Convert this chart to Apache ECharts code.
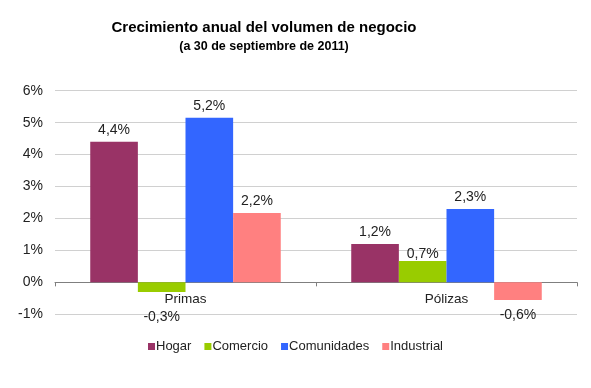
<!DOCTYPE html>
<html><head><meta charset="utf-8">
<script src="https://cdn.jsdelivr.net/npm/echarts@6/dist/echarts.min.js"></script>
<style>html,body{margin:0;padding:0;background:#fff}#c{width:591px;height:388px}</style>
</head><body><div id="c"></div>
<script>
var categories = ['Primas', 'Pólizas'];
var seriesNames = ['Hogar', 'Comercio', 'Comunidades', 'Industrial'];
var hogar = [4.4, 1.2];
var comercio = [-0.3, 0.67];
var comunidades = [5.15, 2.3];
var industrial = [2.17, -0.55];
var yTicks = [-1, 0, 1, 2, 3, 4, 5, 6];

var colors = ['#993366', '#99CC00', '#3366FF', '#FF8080'];
var values = [hogar, comercio, comunidades, industrial];
var FONT = '"Liberation Sans", Arial, sans-serif';

function fmt(v) { return v.toFixed(1).replace('.', ',') + '%'; }

var series = values.map(function (arr, si) {
  return {
    name: seriesNames[si],
    type: 'bar',
    barGap: '0%',
    barCategoryGap: '27%',
    itemStyle: { color: colors[si] },
    data: arr.map(function (v, ci) {
      var neg = v < 0;
      var dist = neg ? 8 : 5;
      if (neg && ci === 0) dist = 18;
      if (si === 1 && ci === 1) dist = 0;
      return {
        value: v,
        label: {
          show: true,
          position: neg ? 'bottom' : 'top',
          distance: dist,
          formatter: function (p) { return fmt(p.value); },
          fontFamily: FONT, fontSize: 14, color: '#222'
        }
      };
    })
  };
});

var chart = echarts.init(document.getElementById('c'));
chart.setOption({
  animation: false,
  title: {
    text: 'Crecimiento anual del volumen de negocio',
    subtext: '(a 30 de septiembre de 2011)',
    left: 259, textAlign: 'center', top: 15, itemGap: 5,
    textStyle: { fontFamily: FONT, fontSize: 15, fontWeight: 'bold', color: '#000' },
    subtextStyle: { fontFamily: FONT, fontSize: 12.5, fontWeight: 'bold', color: '#000' }
  },
  legend: {
    data: seriesNames,
    left: 'center', top: 335,
    itemWidth: 7, itemHeight: 7, itemGap: 13,
    icon: 'rect',
    textStyle: { fontFamily: FONT, fontSize: 13, color: '#222', padding: [0, 0, 0, -4] }
  },
  grid: { left: 55, right: 14, top: 90.7, bottom: 73.7, containLabel: false },
  xAxis: {
    type: 'category',
    data: categories,
    axisLine: { onZero: true, lineStyle: { color: '#7f7f7f', width: 1 } },
    axisTick: { show: true, length: 4, lineStyle: { color: '#7f7f7f' } },
    axisLabel: { fontFamily: FONT, fontSize: 13.5, color: '#222', margin: -22 }
  },
  yAxis: {
    type: 'value',
    min: yTicks[0], max: yTicks[yTicks.length - 1], interval: 1,
    axisLine: { show: false },
    axisTick: { show: false },
    splitLine: { lineStyle: { color: '#d0d0d0', width: 1 } },
    axisLabel: { fontFamily: FONT, fontSize: 14, color: '#222', margin: 12,
      formatter: function (v) { return v + '%'; } }
  },
  series: series
});
</script>
</body></html>
